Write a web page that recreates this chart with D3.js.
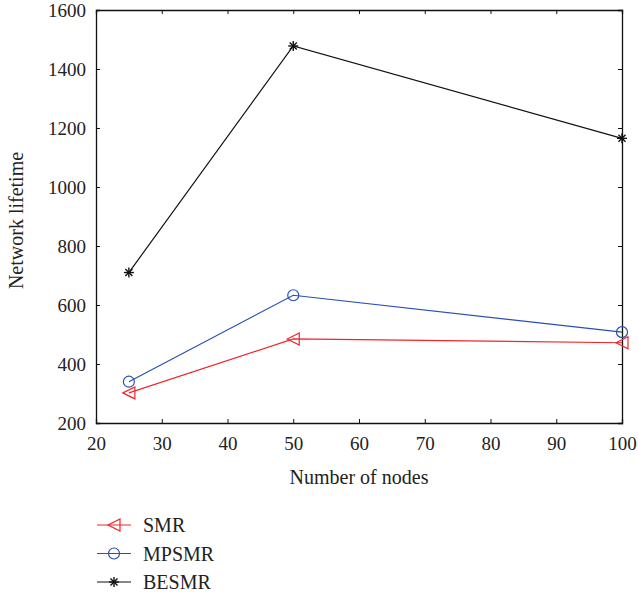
<!DOCTYPE html>
<html>
<head>
<meta charset="utf-8">
<script src="https://cdn.jsdelivr.net/npm/d3@7"></script>
<style>
  body { margin: 0; background: #fff; }
  text { font-family: "Liberation Serif", "DejaVu Serif", serif; fill: #222; }
</style>
</head>
<body>
<div id="chart"></div>
<script>
// 数据
const nodes = [25, 50, 100];
const smr = [302, 485, 472];
const mpsmr = [340, 633, 508];
const besmr = [710, 1478, 1165];
const xTicks = [20, 30, 40, 50, 60, 70, 80, 90, 100];
const yTicks = [200, 400, 600, 800, 1000, 1200, 1400, 1600];

const margin = {top: 10, right: 16, bottom: 177, left: 96};
const width = 638 - margin.left - margin.right;
const height = 600 - margin.top - margin.bottom;

const svgRoot = d3.select('#chart').append('svg')
    .attr('width', 638).attr('height', 600);
const svg = svgRoot.append('g')
    .attr('transform', `translate(${margin.left},${margin.top})`);

const x = d3.scaleLinear().domain([20, 100]).range([0, width]);
const y = d3.scaleLinear().domain([200, 1600]).range([height, 0]);

// 坐标轴（刻度朝内）
const tk = 4;
svg.append('g').attr('transform', `translate(0,${height})`)
    .call(d3.axisBottom(x).tickValues(xTicks).tickSize(-tk).tickPadding(14).tickFormat(d3.format('d')));
svg.append('g')
    .call(d3.axisLeft(y).tickValues(yTicks).tickSize(-tk).tickPadding(10).tickFormat(d3.format('d')));
svg.append('g').attr('transform', `translate(${width},0)`)
    .call(d3.axisRight(y).tickValues(yTicks).tickSize(-tk).tickFormat(''));
svg.append('g')
    .call(d3.axisTop(x).tickValues(xTicks).tickSize(-tk).tickFormat(''));
svg.selectAll('.domain').attr('stroke', '#111').attr('stroke-width', 1.3);
svg.selectAll('.tick line').attr('stroke', '#111');
svg.selectAll('.tick text').style('font-size', '19px')
    .style('font-family', '"Liberation Serif", serif').attr('fill', '#222');

// 轴标签
svg.append('text')
    .attr('x', width / 2).attr('y', height + 61)
    .attr('text-anchor', 'middle').style('font-size', '20px')
    .text('Number of nodes');
svg.append('text')
    .attr('transform', 'rotate(-90)')
    .attr('x', -height / 2 - 4).attr('y', -73)
    .attr('text-anchor', 'middle').style('font-size', '20px')
    .text('Network lifetime');

const series = [
  {name: 'SMR', values: smr, color: '#f0262c', marker: 'tri'},
  {name: 'MPSMR', values: mpsmr, color: '#2a4fb0', marker: 'circle'},
  {name: 'BESMR', values: besmr, color: '#111', marker: 'star'}
];

function drawMarker(g, type, color) {
  if (type === 'tri') {
    g.append('path').attr('d', 'M-6,0L6,-6L6,6Z')
      .attr('fill', 'none').attr('stroke', color).attr('stroke-width', 1.2);
  } else if (type === 'circle') {
    g.append('circle').attr('r', 5.5)
      .attr('fill', 'none').attr('stroke', color).attr('stroke-width', 1.2);
  } else {
    const r = 5;
    for (let a = 0; a < 180; a += 45) {
      const rad = a * Math.PI / 180;
      g.append('line')
        .attr('x1', -r * Math.cos(rad)).attr('y1', -r * Math.sin(rad))
        .attr('x2', r * Math.cos(rad)).attr('y2', r * Math.sin(rad))
        .attr('stroke', color).attr('stroke-width', 1.4);
    }
  }
}

const line = d3.line().x((d, i) => x(nodes[i])).y(d => y(d));

series.forEach(s => {
  svg.append('path').datum(s.values)
    .attr('d', line).attr('fill', 'none')
    .attr('stroke', s.color).attr('stroke-width', 1.2);
  s.values.forEach((v, i) => {
    const g = svg.append('g').attr('transform', `translate(${x(nodes[i])},${y(v)})`);
    drawMarker(g, s.marker, s.color);
  });
});

// 图例
const legend = svgRoot.append('g').attr('transform', 'translate(97,525)');
series.forEach((s, i) => {
  const row = legend.append('g').attr('transform', `translate(0,${i * 28.5})`);
  row.append('line').attr('x1', 0).attr('x2', 34).attr('y1', 0).attr('y2', 0)
    .attr('stroke', s.color).attr('stroke-width', 1.2);
  const m = row.append('g').attr('transform', 'translate(17,0)');
  drawMarker(m, s.marker, s.color);
  row.append('text').attr('x', 46).attr('y', 7)
    .style('font-size', '20px').text(s.name);
});
</script>
</body>
</html>
